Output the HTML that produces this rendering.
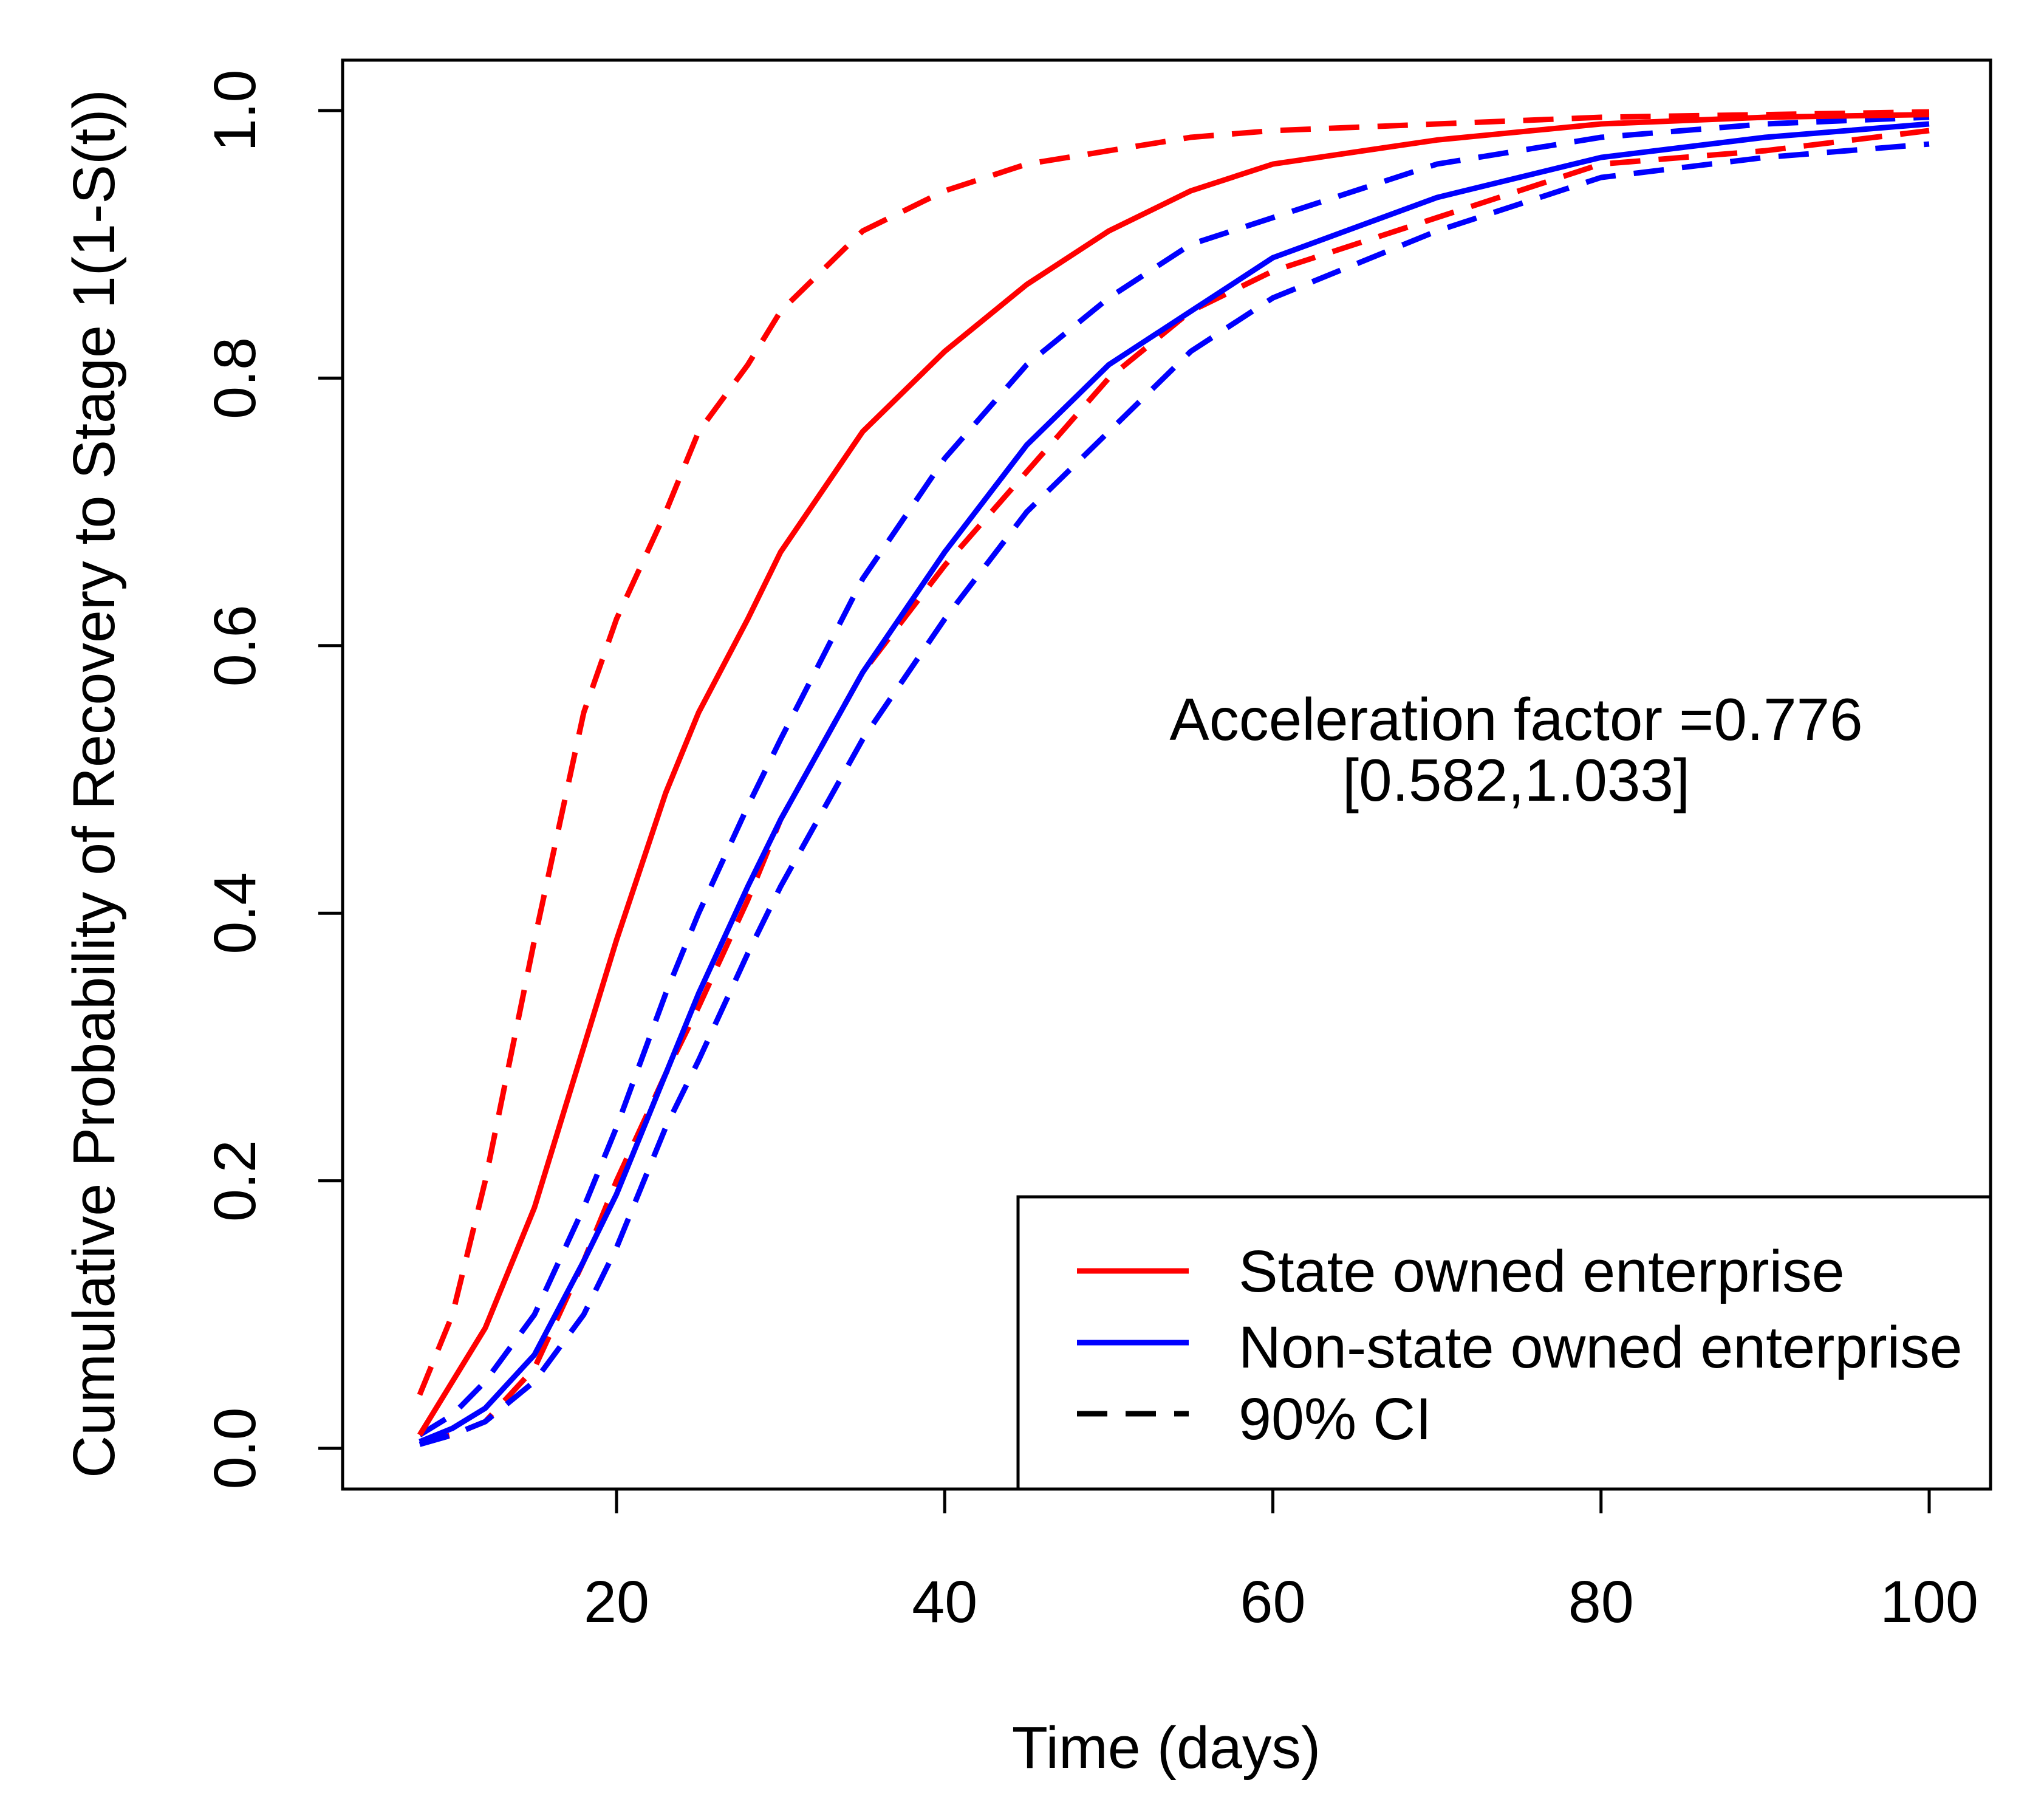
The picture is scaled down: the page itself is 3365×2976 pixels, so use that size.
<!DOCTYPE html>
<html><head><meta charset="utf-8"><style>
html,body{margin:0;padding:0;background:#fff;}
svg{display:block;font-family:"Liberation Sans",Arial,sans-serif;}
</style></head><body>
<svg id="chart" width="3365" height="2976" viewBox="0 0 3365 2976">
<rect x="0" y="0" width="3365" height="2976" fill="#fff"/>
<g id="marks"></g>
<rect x="564" y="99" width="2713" height="2352" fill="none" stroke="#000" stroke-width="5"/>
<g id="axes"></g>
<text x="2496" y="1218" font-size="98" text-anchor="middle" fill="#000">Acceleration factor =0.776</text>
<text x="2496" y="1318" font-size="98" text-anchor="middle" fill="#000">[0.582,1.033]</text>
<g>
<rect x="1676" y="1970" width="1601" height="481" fill="#fff" stroke="#000" stroke-width="5"/>
<line x1="1773" y1="2092" x2="1957" y2="2092" stroke="#ff0000" stroke-width="9"/>
<text x="2039" y="2126" font-size="97">State owned enterprise</text>
<line x1="1773" y1="2210" x2="1957" y2="2210" stroke="#0000ff" stroke-width="9"/>
<text x="2039" y="2251" font-size="97">Non-state owned enterprise</text>
<line x1="1773" y1="2327" x2="1957" y2="2327" stroke="#000" stroke-width="9" stroke-dasharray="50 30"/>
<text x="2039" y="2369" font-size="97">90% CI</text>
</g>
<text x="1920" y="2910" font-size="97" text-anchor="middle">Time (days)</text>
<text transform="translate(188,1290) rotate(-90)" font-size="97" text-anchor="middle">Cumulative Probability of Recovery to Stage 1(1-S(t))</text>
</svg>
<script>
const times = [8,10,12,15,18,20,23,25,28,30,35,40,45,50,55,60,70,80,90,100];
const soe      = [0.01,0.05,0.09,0.18,0.30,0.38,0.49,0.55,0.62,0.67,0.76,0.82,0.87,0.91,0.94,0.96,0.978,0.99,0.995,0.997];
const soeUpper = [0.04,0.10,0.20,0.38,0.55,0.62,0.70,0.76,0.81,0.85,0.91,0.94,0.96,0.97,0.98,0.985,0.99,0.995,0.997,0.999];
const soeLower = [0.005,0.01,0.02,0.06,0.14,0.20,0.28,0.33,0.41,0.47,0.58,0.66,0.73,0.80,0.85,0.88,0.92,0.96,0.97,0.985];
const nsoe      = [0.005,0.015,0.03,0.07,0.14,0.19,0.28,0.34,0.42,0.47,0.58,0.67,0.75,0.81,0.85,0.89,0.935,0.965,0.98,0.99];
const nsoeUpper = [0.01,0.025,0.05,0.10,0.18,0.24,0.34,0.40,0.48,0.53,0.65,0.74,0.81,0.86,0.90,0.92,0.96,0.98,0.99,0.995];
const nsoeLower = [0.003,0.01,0.02,0.05,0.10,0.15,0.24,0.29,0.37,0.42,0.53,0.62,0.70,0.76,0.82,0.86,0.91,0.95,0.965,0.975];
const xTicks = [20,40,60,80,100];
const yTicks = [0,0.2,0.4,0.6,0.8,1.0];
const yTickLabels = ["0.0","0.2","0.4","0.6","0.8","1.0"];

const NS="http://www.w3.org/2000/svg";
function xs(t){return 1015+(t-20)*(3176-1015)/80;}
function ys(v){return 2384-v*(2384-182);}
const marks=document.getElementById('marks');
const axes=document.getElementById('axes');
function series(vals,color,dashed,name){
  const p=document.createElementNS(NS,'path');
  p.setAttribute('d',vals.map((v,i)=>(i?'L':'M')+xs(times[i]).toFixed(1)+' '+ys(v).toFixed(1)).join(' '));
  p.setAttribute('fill','none');p.setAttribute('stroke',color);p.setAttribute('stroke-width','9');
  p.setAttribute('stroke-linejoin','round');
  if(dashed)p.setAttribute('stroke-dasharray','50 30');
  
  
  marks.appendChild(p);
}
series(soeUpper,'#ff0000',true,'soe-upper-ci');
series(soeLower,'#ff0000',true,'soe-lower-ci');
series(nsoeUpper,'#0000ff',true,'nsoe-upper-ci');
series(nsoeLower,'#0000ff',true,'nsoe-lower-ci');
series(soe,'#ff0000',false,'soe-line');
series(nsoe,'#0000ff',false,'nsoe-line');
xTicks.forEach(t=>{
  const l=document.createElementNS(NS,'line');
  l.setAttribute('x1',xs(t));l.setAttribute('x2',xs(t));l.setAttribute('y1',2451);l.setAttribute('y2',2491);
  l.setAttribute('stroke','#000');l.setAttribute('stroke-width','5');
  
  
  axes.appendChild(l);
  const tx=document.createElementNS(NS,'text');
  tx.setAttribute('x',xs(t));tx.setAttribute('y',2670);tx.setAttribute('font-size','97');tx.setAttribute('text-anchor','middle');
  tx.textContent=t;
  
  
  axes.appendChild(tx);
});
yTicks.forEach((v,i)=>{
  const l=document.createElementNS(NS,'line');
  l.setAttribute('x1',524);l.setAttribute('x2',564);l.setAttribute('y1',ys(v));l.setAttribute('y2',ys(v));
  l.setAttribute('stroke','#000');l.setAttribute('stroke-width','5');
  
  
  axes.appendChild(l);
  const tx=document.createElementNS(NS,'text');
  tx.setAttribute('transform','translate(420,'+ys(v)+') rotate(-90)');
  tx.setAttribute('font-size','97');tx.setAttribute('text-anchor','middle');
  tx.textContent=yTickLabels[i];
  
  
  axes.appendChild(tx);
});
</script>
</body></html>
